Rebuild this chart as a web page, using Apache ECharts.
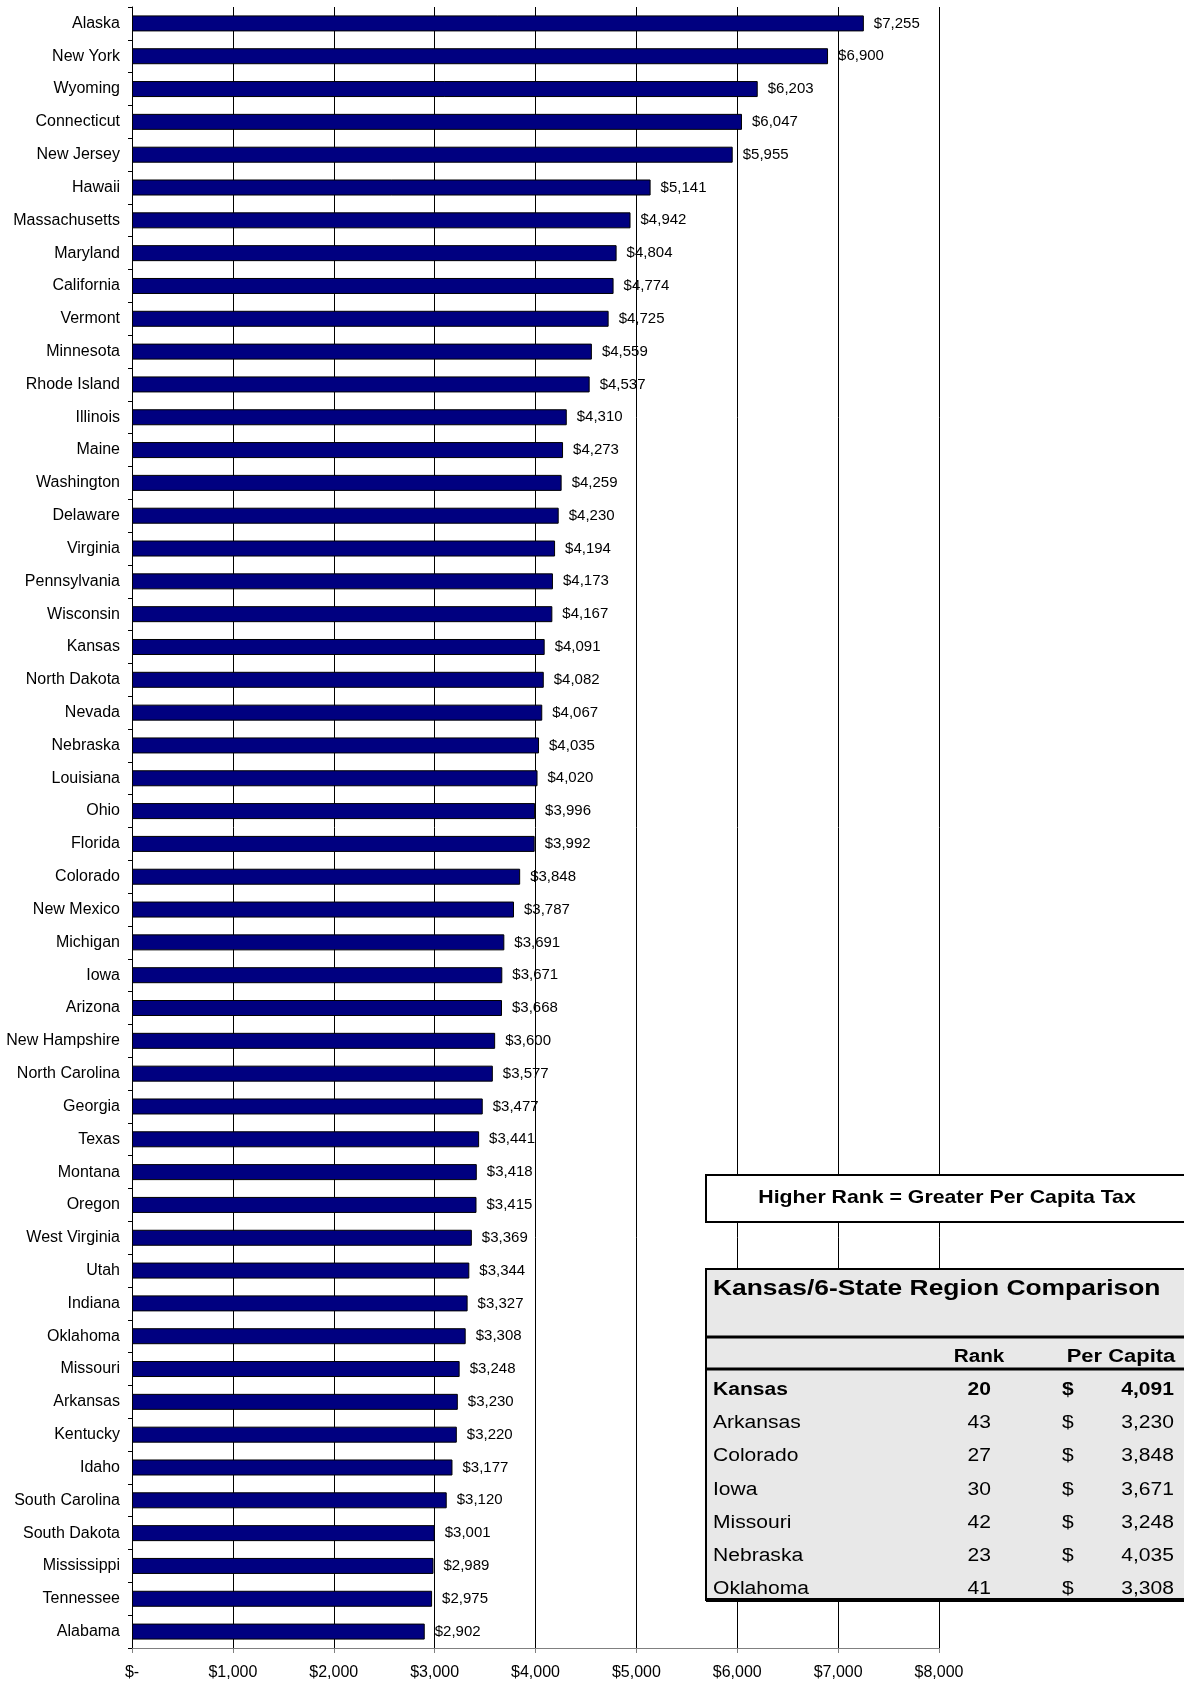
<!DOCTYPE html>
<html>
<head>
<meta charset="utf-8">
<script src="https://cdn.jsdelivr.net/npm/echarts@6/dist/echarts.min.js"></script>
<style>
  html, body { margin: 0; padding: 0; background: #fff; }
  #chart { width: 1184px; height: 1684px; }
</style>
</head>
<body>
<div id="chart"></div>
<script>
// Per capita state & local tax, ranked highest to lowest
const states = [
  'Alaska', 'New York', 'Wyoming', 'Connecticut', 'New Jersey', 'Hawaii',
  'Massachusetts', 'Maryland', 'California', 'Vermont', 'Minnesota',
  'Rhode Island', 'Illinois', 'Maine', 'Washington', 'Delaware', 'Virginia',
  'Pennsylvania', 'Wisconsin', 'Kansas', 'North Dakota', 'Nevada', 'Nebraska',
  'Louisiana', 'Ohio', 'Florida', 'Colorado', 'New Mexico', 'Michigan', 'Iowa',
  'Arizona', 'New Hampshire', 'North Carolina', 'Georgia', 'Texas', 'Montana',
  'Oregon', 'West Virginia', 'Utah', 'Indiana', 'Oklahoma', 'Missouri',
  'Arkansas', 'Kentucky', 'Idaho', 'South Carolina', 'South Dakota',
  'Mississippi', 'Tennessee', 'Alabama'
];
const perCapita = [
  7255, 6900, 6203, 6047, 5955, 5141,
  4942, 4804, 4774, 4725, 4559,
  4537, 4310, 4273, 4259, 4230, 4194,
  4173, 4167, 4091, 4082, 4067, 4035,
  4020, 3996, 3992, 3848, 3787, 3691, 3671,
  3668, 3600, 3577, 3477, 3441, 3418,
  3415, 3369, 3344, 3327, 3308, 3248,
  3230, 3220, 3177, 3120, 3001,
  2989, 2975, 2902
];
const axisMax = 8000;
const axisStep = 1000;
const zeroTickLabel = '$-';

// Regional comparison table
const noteText = 'Higher Rank = Greater Per Capita Tax';
const tableTitle = 'Kansas/6-State Region Comparison';
const tableHeaders = ['Rank', 'Per Capita'];
const tableStates = ['Kansas', 'Arkansas', 'Colorado', 'Iowa', 'Missouri', 'Nebraska', 'Oklahoma'];
const tableRanks = [20, 43, 27, 30, 42, 23, 41];
const tableValues = [4091, 3230, 3848, 3671, 3248, 4035, 3308];

const FONT = '"Liberation Sans", Arial, sans-serif';
const fmt = v => v.toLocaleString('en-US');

function txt(x, y, text, opts) {
  return {
    type: 'text', x: x, y: y, z: 110,
    scaleX: opts.scaleX || 1,
    style: {
      text: text,
      fill: '#000',
      fontSize: opts.size,
      fontWeight: opts.bold ? 'bold' : 'normal',
      fontFamily: FONT,
      align: opts.align || 'left', textAlign: opts.align || 'left',
      verticalAlign: 'middle', textVerticalAlign: 'middle'
    }
  };
}

// Table and note box
const graphics = [];
graphics.push({
  type: 'rect', z: 100,
  shape: { x: 706, y: 1175, width: 490, height: 47 },
  style: { fill: '#fff', stroke: '#000', lineWidth: 2 }
});
graphics.push(txt(947, 1198, noteText, { size: 19, bold: true, align: 'center', scaleX: 1.12 }));

graphics.push({
  type: 'rect', z: 100,
  shape: { x: 706, y: 1269, width: 490, height: 331 },
  style: { fill: '#e8e8e8', stroke: '#000', lineWidth: 2 }
});
[[1337, 3], [1369, 3], [1600, 4]].forEach(([y, w]) => {
  graphics.push({
    type: 'line', z: 105,
    shape: { x1: 706, y1: y, x2: 1196, y2: y },
    style: { stroke: '#000', lineWidth: w }
  });
});
graphics.push(txt(713, 1289, tableTitle, { size: 22, bold: true, scaleX: 1.2 }));
graphics.push(txt(979, 1357, tableHeaders[0], { size: 18, bold: true, align: 'center', scaleX: 1.15 }));
graphics.push(txt(1121, 1357, tableHeaders[1], { size: 18, bold: true, align: 'center', scaleX: 1.22 }));
tableStates.forEach((name, i) => {
  const y = 1390 + i * 33.2;
  const bold = i === 0;
  graphics.push(txt(713, y, name, { size: 18, bold: bold, scaleX: 1.17 }));
  graphics.push(txt(991, y, String(tableRanks[i]), { size: 18, bold: bold, align: 'right', scaleX: 1.17 }));
  graphics.push(txt(1062, y, '$', { size: 18, bold: bold, scaleX: 1.17 }));
  graphics.push(txt(1174, y, fmt(tableValues[i]), { size: 18, bold: bold, align: 'right', scaleX: 1.17 }));
});

const chart = echarts.init(document.getElementById('chart'), null, { renderer: 'canvas' });
chart.setOption({
  animation: false,
  backgroundColor: '#fff',
  grid: { left: 132, right: 245, top: 7, bottom: 36, containLabel: false },
  xAxis: {
    type: 'value',
    min: 0, max: axisMax, interval: axisStep,
    axisLine: { show: true, lineStyle: { color: '#808080', width: 1 } },
    axisTick: { show: true, length: 5, lineStyle: { color: '#808080' } },
    splitLine: { show: true, lineStyle: { color: '#000', width: 1 } },
    axisLabel: {
      margin: 17, fontSize: 16, color: '#000', fontFamily: FONT,
      formatter: v => v === 0 ? zeroTickLabel : '$' + fmt(v)
    }
  },
  yAxis: {
    type: 'category',
    data: states,
    inverse: true,
    axisLine: { show: true, lineStyle: { color: '#000', width: 1 } },
    axisTick: { show: true, length: 4, lineStyle: { color: '#000' } },
    axisLabel: { margin: 12, fontSize: 16, color: '#000', fontFamily: FONT },
    splitLine: { show: false }
  },
  series: [{
    type: 'bar',
    data: perCapita,
    barWidth: 16,
    itemStyle: { color: '#000080', borderColor: '#000', borderWidth: 1 },
    label: {
      show: true, position: 'right', distance: 10,
      fontSize: 15, color: '#000', fontFamily: FONT,
      formatter: p => '$' + fmt(p.value)
    }
  }],
  graphic: graphics
});
</script>
</body>
</html>
